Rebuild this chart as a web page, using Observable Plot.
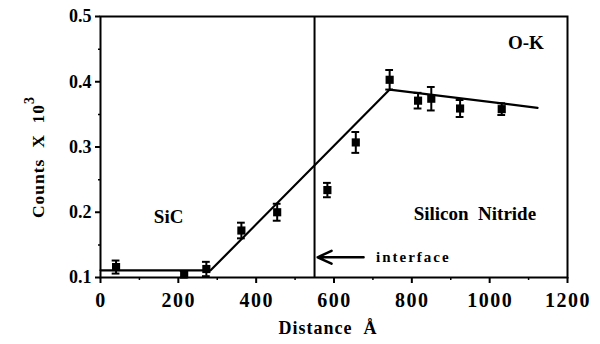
<!DOCTYPE html>
<html>
<head>
<meta charset="utf-8">
<script src="https://cdn.jsdelivr.net/npm/d3@7"></script>
<script src="https://cdn.jsdelivr.net/npm/@observablehq/plot@0.6"></script>
<style>
  html, body { margin: 0; padding: 0; background: #fff; }
</style>
</head>
<body>
<div id="chart"></div>
<script>
// Measured data points (Distance Å, Counts x10^3, error half-width)
const distance = [40, 215, 272, 362, 454, 583, 656, 743, 816, 850, 924, 1031];
const counts   = [0.116, 0.105, 0.113, 0.172, 0.200, 0.234, 0.307, 0.403, 0.371, 0.374, 0.359, 0.358];
const errors   = [0.010, 0.005, 0.011, 0.012, 0.013, 0.011, 0.016, 0.015, 0.012, 0.018, 0.013, 0.009];

// Fitted piecewise line
const fitX = [0, 283, 743, 1123];
const fitY = [0.111, 0.111, 0.388, 0.360];

// Interface position
const interfaceX = [550];

// Tick values
const xMajor = [0, 200, 400, 600, 800, 1000, 1200];
const xMinor = [100, 300, 500, 700, 900, 1100];
const yMajor = [0.1, 0.2, 0.3, 0.4, 0.5];
const yMinor = [0.15, 0.25, 0.35, 0.45];

// Annotations
const labels = [
  {x: 175, y: 0.193, text: "SiC"},
  {x: 962, y: 0.197, text: "Silicon  Nitride"},
  {x: 1093, y: 0.459, text: "O-K"}
];
const arrowFrom = {x: 676, y: 0.131};
const arrowTo = {x: 558, y: 0.131};
const interfaceLabel = {x: 708, y: 0.131, text: "interface"};

const points = distance.map((d, i) => ({x: d, y: counts[i], e: errors[i]}));
const fit = fitX.map((d, i) => ({x: d, y: fitY[i]}));
const capW = 10;
const serif = "'Liberation Serif', 'DejaVu Serif', serif";

const plot = Plot.plot({
  width: 600,
  height: 344,
  marginLeft: 100,
  marginRight: 33,
  marginTop: 16,
  marginBottom: 67,
  style: {fontFamily: serif, background: "#fff"},
  x: {domain: [0, 1200]},
  y: {domain: [0.1, 0.5]},
  marks: [
    Plot.frame({stroke: "#000", strokeWidth: 2}),
    Plot.axisX({ticks: xMajor, tickSize: 6, tickFormat: () => "", label: null, strokeWidth: 2}),
    Plot.axisX({ticks: xMinor, tickSize: 3, tickFormat: () => "", label: null, strokeWidth: 1.5}),
    Plot.axisY({ticks: yMajor, tickSize: 5, tickPadding: 4, tickFormat: d3.format(".1f"), fontSize: 18, fontWeight: "bold", label: null, strokeWidth: 2}),
    Plot.axisY({ticks: yMinor, tickSize: 2, tickFormat: () => "", label: null, strokeWidth: 1.5}),
    Plot.ruleX(interfaceX, {x: d => d, y1: 0.1, y2: 0.5, stroke: "#000", strokeWidth: 2}),
    Plot.line(fit, {x: "x", y: "y", stroke: "#000", strokeWidth: 2.2}),
    Plot.ruleX(points, {x: "x", y1: d => d.y - d.e, y2: d => d.y + d.e, stroke: "#000", strokeWidth: 2}),
    Plot.ruleY(points, {y: d => d.y + d.e, x1: d => d.x - capW, x2: d => d.x + capW, stroke: "#000", strokeWidth: 2}),
    Plot.ruleY(points, {y: d => d.y - d.e, x1: d => d.x - capW, x2: d => d.x + capW, stroke: "#000", strokeWidth: 2}),
    Plot.dot(points, {x: "x", y: "y", symbol: "square", r: 4.6, fill: "#000", stroke: "none"}),
    Plot.text(labels, {x: "x", y: "y", text: "text", fontSize: 19, fontWeight: "bold", fill: "#000"}),
    Plot.arrow([{x1: arrowFrom.x, y1: arrowFrom.y, x2: arrowTo.x, y2: arrowTo.y}], {x1: "x1", y1: "y1", x2: "x2", y2: "y2", stroke: "#000", strokeWidth: 2.5, headLength: 10, headAngle: 50}),
    Plot.text([interfaceLabel], {x: "x", y: "y", text: "text", textAnchor: "start", fontSize: 15, fontWeight: "bold", fill: "#000"})
  ]
});

const svg = d3.select(plot);
const xScale = plot.scale("x");
const yScale = plot.scale("y");
const axisY0 = yScale.apply(yScale.domain[0]);

// x tick labels, placed with Plot's x scale
svg.append("g").attr("aria-label", "x-axis tick label")
  .selectAll("text").data(xMajor).join("text")
  .attr("x", d => xScale.apply(d) + 1)
  .attr("y", axisY0 + 23)
  .attr("text-anchor", "middle").attr("dominant-baseline", "central")
  .attr("font-size", 20).attr("font-weight", "bold").attr("fill", "#000")
  .style("letter-spacing", "1.5px")
  .text(d => String(d));

// x-axis title
svg.append("text")
  .attr("x", 328).attr("y", 330)
  .attr("text-anchor", "middle").attr("dominant-baseline", "middle")
  .attr("font-size", 18).attr("font-weight", "bold").attr("fill", "#000")
  .style("letter-spacing", "1px")
  .text("Distance  Å");
// y-axis title with superscript
const yt = svg.append("text")
  .attr("transform", "translate(44,157) rotate(-90)")
  .attr("text-anchor", "middle")
  .attr("font-size", 17.5).attr("font-weight", "bold").attr("fill", "#000")
  .style("letter-spacing", "1px");
yt.append("tspan").text("Counts  X  10");
yt.append("tspan").attr("dy", "-0.7em").attr("font-size", 14).text("3");

// typography tweaks: force serif font, spacing as in reference
svg.selectAll("text").style("font-family", serif);
svg.selectAll("text").filter(function() { return this.textContent === interfaceLabel.text; })
  .style("letter-spacing", "2px");

document.getElementById("chart").appendChild(plot);
</script>
</body>
</html>
